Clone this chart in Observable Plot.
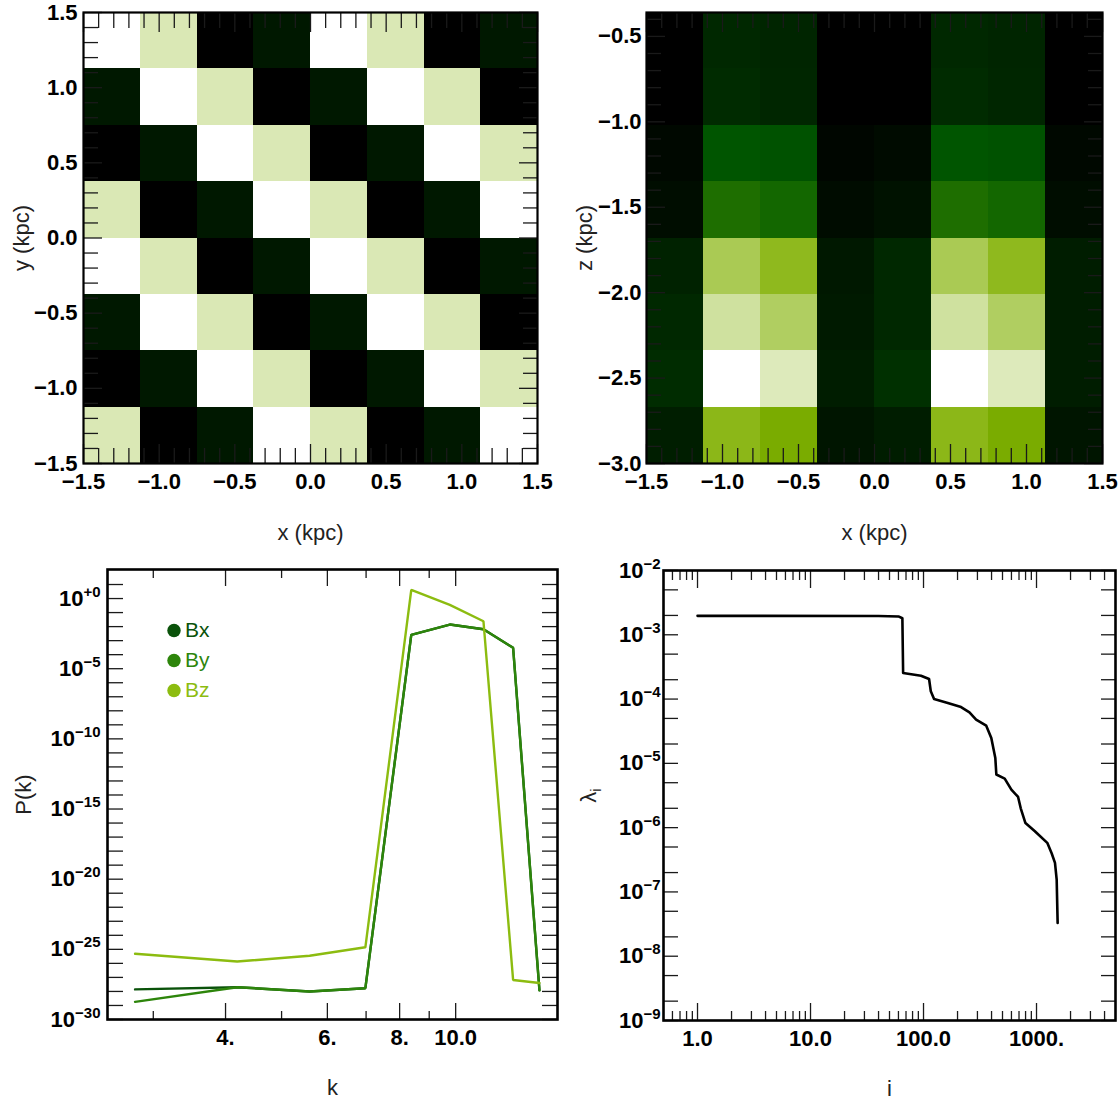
<!DOCTYPE html>
<html>
<head>
<meta charset="utf-8">
<script src="https://cdn.jsdelivr.net/npm/d3@7"></script>
<script src="https://cdn.jsdelivr.net/npm/@observablehq/plot@0.6"></script>
<style>
  html, body { margin: 0; padding: 0; background: #fff; }
  #wrap { position: relative; width: 1119px; height: 1102px; overflow: hidden; background: #fff;
          font-family: "Liberation Sans", Arial, sans-serif; }
  #wrap > div { position: absolute; }
</style>
</head>
<body>
<div id="wrap">
  <div id="p1" style="left:0;top:0"></div>
  <div id="p2" style="left:560px;top:0"></div>
  <div id="p3" style="left:0;top:550px"></div>
  <div id="p4" style="left:560px;top:550px"></div>
</div>
<script>
// ---------------- DATA ----------------
// Panel 1: x-y slice, 8x8 cells, rows listed from top (y = 1.5) to bottom (y = -1.5)
const xyXEdges = [-1.5, -1.125, -0.75, -0.375, 0, 0.375, 0.75, 1.125, 1.5];
const xyYEdges = [-1.5, -1.125, -0.75, -0.375, 0, 0.375, 0.75, 1.125, 1.5];
const xyGrid = [
  [1.000, 0.903, 0.000, 0.089, 1.000, 0.903, 0.000, 0.089],
  [0.089, 1.000, 0.903, 0.000, 0.089, 1.000, 0.903, 0.000],
  [0.000, 0.089, 1.000, 0.903, 0.000, 0.089, 1.000, 0.903],
  [0.903, 0.000, 0.089, 1.000, 0.903, 0.000, 0.089, 1.000],
  [1.000, 0.903, 0.000, 0.089, 1.000, 0.903, 0.000, 0.089],
  [0.089, 1.000, 0.903, 0.000, 0.089, 1.000, 0.903, 0.000],
  [0.000, 0.089, 1.000, 0.903, 0.000, 0.089, 1.000, 0.903],
  [0.903, 0.000, 0.089, 1.000, 0.903, 0.000, 0.089, 1.000]
];

// Panel 2: x-z slice, rows listed from top (z = -0.36) to bottom (z = -3.0)
const xzXEdges = [-1.5, -1.125, -0.75, -0.375, 0, 0.375, 0.75, 1.125, 1.5];
const xzZEdges = [-3.0, -2.67, -2.34, -2.01, -1.68, -1.35, -1.02, -0.69, -0.36];
const xzGrid = [
  [0.000, 0.148, 0.137, 0.000, 0.000, 0.148, 0.137, 0.000],
  [0.000, 0.160, 0.141, 0.000, 0.000, 0.160, 0.141, 0.000],
  [0.030, 0.315, 0.304, 0.022, 0.040, 0.315, 0.304, 0.030],
  [0.048, 0.411, 0.383, 0.045, 0.067, 0.411, 0.383, 0.048],
  [0.126, 0.777, 0.706, 0.089, 0.148, 0.777, 0.706, 0.107],
  [0.148, 0.874, 0.793, 0.096, 0.150, 0.874, 0.793, 0.107],
  [0.163, 1.000, 0.911, 0.107, 0.178, 1.000, 0.911, 0.107],
  [0.110, 0.698, 0.651, 0.078, 0.107, 0.698, 0.651, 0.078]
];

// Panel 3: power spectra
const kValues = [2.79, 4.19, 5.59, 6.98, 8.38, 9.77, 11.17, 12.57, 13.96];
const pBx = [1.4e-28, 2.0e-28, 1.0e-28, 1.7e-28, 2.6e-3, 1.4e-2, 6.5e-3, 3.1e-4, 1.2e-28];
const pBy = [1.8e-29, 2.0e-28, 1.0e-28, 1.7e-28, 2.6e-3, 1.4e-2, 6.5e-3, 3.1e-4, 1.2e-28];
const pBz = [4.8e-26, 1.35e-26, 3.5e-26, 1.4e-25, 4.2, 0.35, 2.4e-2, 6.6e-28, 4.0e-28];
const seriesNames = ["Bx", "By", "Bz"];
const seriesColors = ["#0a520a", "#2d850b", "#8cbc10"];

// Panel 4: eigenvalue spectrum
const eigI = [1, 40, 60, 65, 66, 95, 112, 116, 124, 164, 215, 255, 292, 359, 398, 432, 441,
              523, 599, 687, 725, 798, 967, 1245, 1361, 1457, 1508, 1538];
const eigLambda = [1.97e-3, 1.96e-3, 1.93e-3, 1.81e-3, 2.54e-4, 2.31e-4, 2.05e-4, 1.32e-4, 1.0e-4,
                   8.7e-5, 7.5e-5, 6.2e-5, 4.8e-5, 3.85e-5, 2.48e-5, 1.21e-5, 6.7e-6, 5.8e-6,
                   3.9e-6, 3.0e-6, 2.0e-6, 1.18e-6, 8.8e-7, 5.8e-7, 4.0e-7, 2.83e-7, 1.56e-7, 3.3e-8];

// Tick values and labels
const kpcTicks = [-1.5, -1.0, -0.5, 0, 0.5, 1.0, 1.5];
const kpcLabels = ["−1.5", "−1.0", "−0.5", "0.0", "0.5", "1.0", "1.5"];
const zTicks = [-3.0, -2.5, -2.0, -1.5, -1.0, -0.5];
const zLabels = ["−3.0", "−2.5", "−2.0", "−1.5", "−1.0", "−0.5"];
const kTicks = [4, 6, 8, 10];
const kLabels = ["4.", "6.", "8.", "10.0"];
const kMinor = [3, 5, 7, 9];
const pTicks = [1e-30, 1e-25, 1e-20, 1e-15, 1e-10, 1e-5, 1e0];
const pLabels = ["10^−30", "10^−25", "10^−20", "10^−15", "10^−10", "10^−5", "10^+0"];
const iTicks = [1, 10, 100, 1000];
const iLabels = ["1.0", "10.0", "100.0", "1000."];
const lamTicks = [1e-9, 1e-8, 1e-7, 1e-6, 1e-5, 1e-4, 1e-3, 1e-2];
const lamLabels = ["10^−9", "10^−8", "10^−7", "10^−6", "10^−5", "10^−4", "10^−3", "10^−2"];

// ---------------- HELPERS ----------------
const greenStops = ["#000000", "#005a00", "#80b000", "#ffffff"];
const greenScale = {type: "linear", domain: [0, 1], interpolate: d3.piecewise(d3.interpolateRgb, greenStops)};

function cells(grid, xE, yE) {
  const n = grid.length, out = [];
  grid.forEach((row, r) => row.forEach((v, c) =>
    out.push({x1: xE[c], x2: xE[c + 1], y1: yE[n - 1 - r], y2: yE[n - r], v})));
  return out;
}
const isMajorHalf = d => Math.abs(d * 2 - Math.round(d * 2)) < 1e-9;
const tenths = (a, b) => d3.range(Math.round(a * 10), Math.round(b * 10) + 1).map(d => d / 10);

const tickColor = "#1a1a1a";
const TICK_FONT = 22;

function frameAxes(o) {
  const m = [];
  for (const anchor of ["bottom", "top"]) {
    m.push(Plot.axisX(o.xMinor, {anchor, tickSize: -o.xMinorLen, fill: "none", stroke: tickColor, strokeWidth: 1.3, label: null}));
    m.push(Plot.axisX(o.xMajor, {anchor, tickSize: -o.xMajorLen, fill: "none", stroke: tickColor, strokeWidth: 1.3, label: null}));
  }
  for (const anchor of ["left", "right"]) {
    m.push(Plot.axisY(o.yMinor, {anchor, tickSize: -o.yMinorLen, fill: "none", stroke: tickColor, strokeWidth: 1.3, label: null}));
    m.push(Plot.axisY(o.yMajor, {anchor, tickSize: -o.yMajorLen, fill: "none", stroke: tickColor, strokeWidth: 1.3, label: null}));
  }
  const xl = o.xMajor.map((d, i) => ({v: d, t: o.xLabels[i]}));
  const yl = o.yMajor.map((d, i) => ({v: d, t: o.yLabels[i]}));
  m.push(Plot.text(xl, {x: "v", text: "t", frameAnchor: "bottom", lineAnchor: "top", textAnchor: "middle",
                        dy: o.xPad, fontSize: TICK_FONT, fontWeight: "bold", fill: "black"}));
  m.push(Plot.text(yl, {y: "v", text: "t", frameAnchor: "left", lineAnchor: "middle", textAnchor: "end",
                        dx: -o.yPad, fontSize: TICK_FONT, fontWeight: "bold", fill: "black"}));
  return m;
}
function titles(xTitle, xDy, yTitle, yDx) {
  return [
    Plot.text([xTitle], {text: d => d, frameAnchor: "bottom", lineAnchor: "middle", textAnchor: "middle", dy: xDy, fontSize: 22, fill: "#222"}),
    Plot.text([yTitle], {text: d => d, frameAnchor: "left", lineAnchor: "middle", textAnchor: "middle", dx: yDx, rotate: -90, fontSize: 22, fill: "#222"})
  ];
}
const baseStyle = {fontFamily: "'Liberation Sans', Arial, sans-serif", background: "white", color: "black", overflow: "visible"};

function richText(svg) {
  const NS = "http://www.w3.org/2000/svg";
  svg.querySelectorAll("text").forEach(t => {
    if (t.children.length) return;
    const s = t.textContent;
    let m = s.match(/^(.+)\^(.+)$/);
    if (m) {
      t.textContent = m[1];
      const sp = document.createElementNS(NS, "tspan");
      sp.setAttribute("dy", "-9");
      sp.setAttribute("font-size", "15");
      sp.textContent = m[2];
      t.appendChild(sp);
      return;
    }
    m = s.match(/^(.+)_(.+)$/);
    if (m) {
      t.textContent = m[1];
      const sb = document.createElementNS(NS, "tspan");
      sb.setAttribute("dy", "5");
      sb.setAttribute("font-size", "15");
      sb.textContent = m[2];
      t.appendChild(sb);
    }
  });
}

// ---------------- PANEL 1 ----------------
const kpcMinor = tenths(-1.5, 1.5).filter(d => !isMajorHalf(d));
const p1 = Plot.plot({
  width: 560, height: 550, marginLeft: 83, marginRight: 23, marginTop: 12, marginBottom: 87,
  style: baseStyle,
  x: {domain: [-1.5, 1.5]}, y: {domain: [-1.5, 1.5]},
  color: greenScale,
  marks: [
    Plot.rect(cells(xyGrid, xyXEdges, xyYEdges), {x1: "x1", x2: "x2", y1: "y1", y2: "y2", fill: "v", shapeRendering: "crispEdges"}),
    ...frameAxes({xMajor: kpcTicks, xLabels: kpcLabels, xMinor: kpcMinor, yMajor: kpcTicks, yLabels: kpcLabels, yMinor: kpcMinor,
                  xMinorLen: 15, xMajorLen: 19, yMinorLen: 15, yMajorLen: 19, xPad: 10, yPad: 6}),
    Plot.frame({stroke: "black", strokeWidth: 2.2}),
    ...titles("x (kpc)", 69, "y (kpc)", -61.5)
  ]
});
document.getElementById("p1").append(p1);

// ---------------- PANEL 2 ----------------
const zMinor = tenths(-3.0, -0.4).filter(d => !isMajorHalf(d));
const p2 = Plot.plot({
  width: 559, height: 550, marginLeft: 86, marginRight: 17, marginTop: 12, marginBottom: 87,
  style: baseStyle,
  x: {domain: [-1.5, 1.5]}, y: {domain: [-3.0, -0.36]},
  color: greenScale,
  marks: [
    Plot.rect(cells(xzGrid, xzXEdges, xzZEdges), {x1: "x1", x2: "x2", y1: "y1", y2: "y2", fill: "v", shapeRendering: "crispEdges"}),
    ...frameAxes({xMajor: kpcTicks, xLabels: kpcLabels, xMinor: kpcMinor, yMajor: zTicks, yLabels: zLabels, yMinor: zMinor,
                  xMinorLen: 15, xMajorLen: 19, yMinorLen: 15, yMajorLen: 19, xPad: 10, yPad: 5}),
    Plot.frame({stroke: "black", strokeWidth: 2.2}),
    ...titles("x (kpc)", 69, "z (kpc)", -62)
  ]
});
document.getElementById("p2").append(p2);

// ---------------- PANEL 3 ----------------
const spectra = [];
[pBx, pBy, pBz].forEach((arr, s) => arr.forEach((p, j) => spectra.push({series: seriesNames[s], k: kValues[j], P: p})));
const pMinor = d3.range(-29, 2).filter(e => e % 5 !== 0).map(e => Math.pow(10, e));
const p3 = Plot.plot({
  width: 560, height: 552, marginLeft: 107, marginRight: 3, marginTop: 19, marginBottom: 83,
  style: baseStyle,
  x: {type: "log", domain: [2.5, 15]},
  y: {type: "log", domain: [1e-30, Math.pow(10, 2.07)]},
  color: {domain: seriesNames, range: seriesColors},
  marks: [
    Plot.line(spectra, {x: "k", y: "P", z: "series", stroke: "series", strokeWidth: 2.4, strokeLinejoin: "miter"}),
    ...frameAxes({xMajor: kTicks, xLabels: kLabels, xMinor: kMinor, yMajor: pTicks, yLabels: pLabels, yMinor: pMinor,
                  xMinorLen: 8, xMajorLen: 16, yMinorLen: 16, yMajorLen: 16, xPad: 10, yPad: 7}),
    ...seriesNames.map((name, i) => Plot.dot([name], {frameAnchor: "top-left", dx: 66.5, dy: 61 + 30 * i, r: 6.7, fill: seriesColors[i], stroke: "none"})),
    ...seriesNames.map((name, i) => Plot.text([name], {text: d => d, frameAnchor: "top-left", lineAnchor: "middle", dx: 77.5, dy: 61 + 30 * i, textAnchor: "start", fontSize: 21, fill: seriesColors[i]})),
    Plot.frame({stroke: "black", strokeWidth: 2.6}),
    ...titles("k", 68.5, "P(k)", -84)
  ]
});
document.getElementById("p3").append(p3);

// ---------------- PANEL 4 ----------------
const eig = eigI.map((d, j) => ({i: d, lambda: eigLambda[j]}));
const iMinor = [0.6, 0.7, 0.8, 0.9, 2, 3, 4, 5, 6, 7, 8, 9, 20, 30, 40, 50, 60, 70, 80, 90,
                200, 300, 400, 500, 600, 700, 800, 900, 2000, 3000, 4000];
const lamMinor = d3.range(-9, -2).flatMap(e => [2 * Math.pow(10, e), 5 * Math.pow(10, e)]);
const p4 = Plot.plot({
  width: 559, height: 552, marginLeft: 103, marginRight: 4, marginTop: 20, marginBottom: 82,
  style: baseStyle,
  x: {type: "log", domain: [0.5, 5000]},
  y: {type: "log", domain: [1e-9, 1e-2]},
  marks: [
    Plot.line(eig, {x: "i", y: "lambda", stroke: "black", strokeWidth: 2.6}),
    ...frameAxes({xMajor: iTicks, xLabels: iLabels, xMinor: iMinor, yMajor: lamTicks, yLabels: lamLabels, yMinor: lamMinor,
                  xMinorLen: 9, xMajorLen: 17, yMinorLen: 15, yMajorLen: 15, xPad: 9.5, yPad: 3}),
    Plot.frame({stroke: "black", strokeWidth: 2.6}),
    ...titles("i", 68.5, "λ_i", -75)
  ]
});
document.getElementById("p4").append(p4);

[p1, p2, p3, p4].forEach(richText);
</script>
</body>
</html>
